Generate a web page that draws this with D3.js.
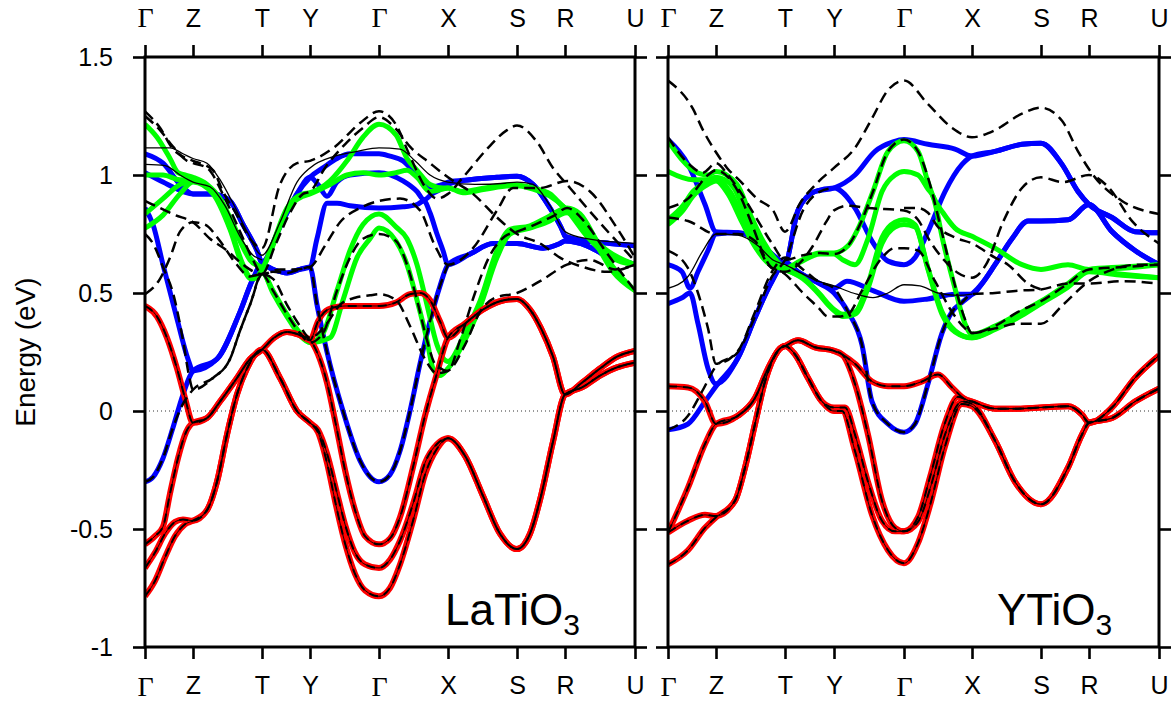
<!DOCTYPE html>
<html><head><meta charset="utf-8">
<script src="https://cdn.jsdelivr.net/npm/d3@7"></script>
<style>
body{margin:0;background:#fff}
svg{display:block}
text{fill:#000}
</style>
</head><body>
<svg id="c" width="1176" height="706"></svg>
<script>
// ---------- data ----------
const kLabels = ["Γ","Z","T","Y","Γ","X","S","R","U"];
const laTicksK = [0,48,117,165,234,303,372,420,490];
const yTicksK  = [0,48,117,166,236,304,373,421,491];
const energyTicks = [-1,-0.5,0,0.5,1,1.5];
const energyLabels = ["-1","-0.5","0","0.5","1","1.5"];

// LaTiO3: bands as [k, E(eV)]
const laRed = [
 [[0,0.445],[12,0.40],[22,0.31],[32,0.18],[40,0.055],[48,-0.05],[62,-0.03],[75,0.04],[92,0.14],[105,0.22],[117,0.26],[129,0.31],[142,0.335],[153,0.325],[165,0.30],[173,0.38],[183,0.43],[200,0.445],[234,0.445],[251,0.46],[265,0.495],[275,0.50],[285,0.47],[295,0.38],[303,0.31],[320,0.37],[338,0.43],[355,0.465],[372,0.475],[385,0.43],[396,0.35],[408,0.23],[420,0.07],[437,0.12],[455,0.18],[472,0.23],[490,0.255]],
 [[0,-0.565],[10,-0.53],[18,-0.49],[25,-0.35],[33,-0.2],[41,-0.09],[48,-0.05],[62,-0.03],[75,0.04],[92,0.14],[105,0.22],[117,0.26],[129,0.31],[142,0.335],[153,0.325],[165,0.30],[173,0.24],[182,0.12],[191,-0.06],[200,-0.25],[210,-0.42],[220,-0.53],[234,-0.565],[245,-0.54],[255,-0.45],[269,-0.22],[280,-0.02],[292,0.16],[303,0.31],[320,0.37],[338,0.43],[355,0.465],[372,0.475],[385,0.43],[396,0.35],[408,0.23],[420,0.07],[437,0.12],[455,0.18],[472,0.23],[490,0.255]],
 [[0,-0.665],[10,-0.60],[20,-0.52],[30,-0.47],[38,-0.46],[48,-0.465],[62,-0.42],[72,-0.30],[82,-0.10],[92,0.07],[102,0.18],[117,0.26],[135,0.14],[152,0.0],[165,-0.05],[173,-0.08],[182,-0.18],[191,-0.33],[200,-0.48],[210,-0.60],[220,-0.65],[234,-0.665],[245,-0.63],[255,-0.55],[269,-0.38],[280,-0.22],[292,-0.14],[303,-0.115],[320,-0.19],[338,-0.36],[355,-0.52],[372,-0.585],[385,-0.52],[396,-0.36],[408,-0.13],[420,0.07],[437,0.10],[455,0.15],[472,0.185],[490,0.205]],
 [[0,-0.785],[10,-0.72],[20,-0.62],[30,-0.53],[40,-0.48],[48,-0.465],[62,-0.42],[72,-0.30],[82,-0.10],[92,0.07],[102,0.18],[117,0.26],[135,0.14],[152,0.0],[165,-0.05],[173,-0.09],[182,-0.22],[191,-0.40],[200,-0.56],[210,-0.69],[220,-0.76],[234,-0.785],[245,-0.75],[255,-0.65],[269,-0.45],[280,-0.27],[292,-0.16],[303,-0.115],[320,-0.19],[338,-0.36],[355,-0.52],[372,-0.585],[385,-0.52],[396,-0.36],[408,-0.13],[420,0.07],[437,0.10],[455,0.15],[472,0.185],[490,0.205]]
];
const laBlue = [
 [[0,1.09],[18,1.05],[35,0.96],[48,0.92],[68,0.92],[85,0.89],[98,0.79],[112,0.68],[117,0.63],[135,0.78],[152,0.92],[165,0.99],[178,1.03],[192,1.07],[205,1.09],[234,1.09],[245,1.08],[258,1.06],[272,1.0],[285,0.95],[298,0.96],[303,0.97],[325,0.98],[352,0.99],[372,0.995],[388,0.96],[405,0.86],[418,0.76],[420,0.74],[442,0.72],[465,0.71],[490,0.70]],
 [[0,1.01],[18,0.97],[38,0.93],[48,0.92],[68,0.92],[85,0.89],[98,0.79],[112,0.68],[117,0.63],[135,0.78],[152,0.92],[165,0.99],[173,0.96],[182,0.91],[192,0.97],[205,1.0],[234,1.01],[258,0.975],[272,0.93],[279,0.895],[287,0.92],[298,0.945],[303,0.96],[325,0.98],[352,0.99],[372,0.995],[388,0.96],[405,0.86],[418,0.76],[420,0.74],[442,0.72],[465,0.71],[490,0.70]],
 [[0,0.86],[8,0.79],[18,0.62],[32,0.39],[43,0.22],[48,0.17],[72,0.22],[95,0.42],[108,0.56],[117,0.62],[128,0.60],[142,0.585],[155,0.60],[165,0.61],[172,0.73],[182,0.88],[192,0.88],[205,0.87],[234,0.86],[258,0.865],[272,0.875],[279,0.89],[285,0.84],[292,0.75],[298,0.68],[303,0.62],[325,0.665],[348,0.71],[372,0.71],[398,0.69],[415,0.71],[420,0.72],[442,0.70],[458,0.665],[475,0.64],[490,0.62]],
 [[0,-0.30],[8,-0.28],[18,-0.20],[28,-0.07],[38,0.07],[48,0.17],[72,0.22],[95,0.42],[108,0.56],[117,0.62],[128,0.60],[142,0.585],[155,0.60],[165,0.61],[172,0.45],[182,0.25],[198,0.0],[215,-0.21],[234,-0.30],[245,-0.27],[255,-0.17],[265,0.0],[275,0.2],[285,0.38],[295,0.53],[303,0.62],[325,0.665],[348,0.71],[372,0.71],[398,0.69],[415,0.71],[420,0.72],[442,0.70],[458,0.665],[475,0.64],[490,0.62]]
];
const laGreen = [
 [[0,1.215],[12,1.16],[25,1.07],[33,1.01],[40,1.0],[48,0.99],[62,0.96],[75,0.90],[85,0.82],[95,0.73],[105,0.65],[112,0.62],[117,0.61],[125,0.68],[142,0.86],[158,0.92],[165,0.925],[185,0.975],[202,1.06],[218,1.16],[234,1.215],[251,1.17],[262,1.07],[272,1.02],[285,0.96],[298,0.945],[303,0.945],[318,0.93],[340,0.945],[368,0.96],[388,0.945],[405,0.92],[420,0.86],[425,0.85],[442,0.76],[462,0.68],[490,0.62]],
 [[0,1.0],[18,1.0],[35,0.98],[48,0.98],[68,0.93],[85,0.78],[98,0.62],[106,0.565],[112,0.57],[117,0.60],[125,0.67],[142,0.85],[158,0.91],[165,0.92],[185,0.96],[202,1.0],[218,1.01],[234,1.0],[251,1.01],[262,1.02],[272,0.99],[285,0.93],[298,0.94],[303,0.945],[318,0.925],[340,0.94],[368,0.955],[388,0.94],[405,0.91],[420,0.86],[442,0.74],[462,0.66],[490,0.62]],
 [[0,0.835],[18,0.90],[35,0.96],[48,0.975],[62,0.95],[75,0.89],[85,0.81],[95,0.72],[105,0.64],[117,0.60],[128,0.51],[142,0.41],[155,0.33],[165,0.29],[178,0.33],[192,0.51],[205,0.68],[218,0.79],[234,0.835],[251,0.78],[262,0.73],[272,0.62],[282,0.45],[292,0.28],[303,0.21],[320,0.33],[335,0.465],[352,0.68],[365,0.77],[385,0.785],[402,0.82],[422,0.86],[435,0.835],[452,0.72],[468,0.61],[490,0.51]],
 [[0,0.775],[18,0.83],[35,0.92],[48,0.97],[68,0.92],[85,0.77],[98,0.61],[106,0.56],[112,0.565],[117,0.59],[128,0.50],[142,0.40],[155,0.32],[165,0.29],[185,0.31],[198,0.47],[212,0.65],[225,0.73],[234,0.775],[251,0.72],[262,0.62],[272,0.47],[282,0.30],[288,0.18],[295,0.15],[303,0.18],[320,0.30],[335,0.44],[352,0.65],[365,0.75],[385,0.775],[402,0.80],[422,0.84],[435,0.80],[452,0.70],[468,0.59],[490,0.51]]
];
const laDash = [
 [[0,1.27],[15,1.20],[28,1.11],[42,1.07],[48,1.06],[68,1.02],[78,0.93],[92,0.83],[105,0.73],[117,0.69],[135,0.96],[152,1.05],[165,1.06],[190,1.12],[215,1.22],[234,1.27],[250,1.22],[265,1.08],[280,0.95],[292,0.90],[303,0.92],[318,0.99],[342,1.11],[362,1.19],[372,1.21],[392,1.14],[408,1.03],[425,0.945],[442,0.86],[465,0.75],[490,0.635]],
 [[0,1.25],[15,1.19],[28,1.12],[42,1.06],[48,1.05],[62,1.03],[80,0.90],[95,0.76],[108,0.64],[117,0.58],[130,0.70],[145,0.84],[158,0.92],[165,0.93],[180,1.03],[200,1.13],[218,1.20],[234,1.245],[250,1.20],[265,1.12],[285,1.05],[303,0.99],[328,0.92],[352,0.82],[372,0.75],[395,0.71],[415,0.65],[438,0.61],[462,0.59],[490,0.62]],
 [[0,0.89],[15,0.86],[30,0.83],[48,0.80],[65,0.73],[82,0.68],[98,0.62],[117,0.58],[135,0.60],[150,0.60],[165,0.61],[180,0.70],[195,0.80],[215,0.86],[234,0.89],[255,0.90],[275,0.85],[290,0.70],[303,0.62],[328,0.69],[352,0.85],[368,0.945],[395,0.945],[422,0.975],[445,0.93],[472,0.775],[490,0.65]],
 [[0,0.75],[8,0.71],[18,0.61],[28,0.50],[38,0.30],[44,0.15],[48,0.09],[68,0.14],[85,0.22],[95,0.34],[105,0.45],[117,0.58],[128,0.51],[142,0.41],[155,0.33],[165,0.29],[178,0.33],[192,0.51],[205,0.65],[218,0.73],[234,0.75],[251,0.72],[262,0.62],[272,0.47],[282,0.30],[290,0.20],[303,0.17],[315,0.30],[330,0.50],[345,0.66],[360,0.74],[372,0.76],[390,0.79],[410,0.83],[422,0.86],[440,0.80],[460,0.68],[490,0.51]],
 [[0,0.495],[15,0.56],[25,0.65],[35,0.76],[48,0.80],[60,0.79],[75,0.72],[90,0.63],[105,0.57],[117,0.58],[128,0.56],[142,0.45],[155,0.36],[165,0.31],[180,0.36],[195,0.45],[210,0.48],[225,0.49],[234,0.495],[251,0.47],[265,0.36],[280,0.22],[292,0.16],[303,0.17],[320,0.28],[335,0.42],[350,0.48],[372,0.50],[395,0.55],[422,0.62],[445,0.64],[470,0.60],[490,0.62]],
 [[0,-0.30],[8,-0.28],[18,-0.20],[28,-0.07],[38,0.03],[48,0.09],[68,0.14],[85,0.22],[95,0.34],[105,0.45],[117,0.58],[128,0.59],[142,0.585],[155,0.60],[165,0.61],[172,0.45],[182,0.25],[198,0.0],[215,-0.21],[234,-0.30],[245,-0.27],[255,-0.17],[265,0.0],[275,0.2],[285,0.38],[295,0.53],[303,0.62]]
];
const laThin = [
 [[0,1.115],[25,1.115],[38,1.09],[48,1.07],[62,1.05],[75,0.98],[88,0.88],[102,0.76],[117,0.66],[135,0.80],[152,0.97],[165,1.03],[190,1.08],[212,1.10],[234,1.115],[255,1.11],[270,1.06],[285,1.0],[303,0.97],[330,0.96],[360,0.965],[372,0.97],[388,0.96],[405,0.87],[420,0.76],[442,0.73],[490,0.71]],
 [[0,1.045],[20,1.04],[35,1.0],[48,0.97],[65,0.95],[80,0.87],[95,0.74],[108,0.66],[117,0.64]]
];

// YTiO3
const yRed = [
 [[0,0.105],[20,0.10],[37,0.04],[48,-0.055],[70,-0.02],[87,0.055],[100,0.18],[112,0.265],[117,0.275],[130,0.30],[147,0.27],[166,0.255],[187,0.20],[204,0.125],[220,0.105],[236,0.105],[254,0.125],[270,0.155],[284,0.10],[297,0.05],[304,0.04],[327,0.01],[350,0.01],[373,0.015],[400,0.02],[414,-0.015],[421,-0.05],[444,0.015],[467,0.14],[491,0.235]],
 [[0,-0.515],[20,-0.325],[37,-0.14],[48,-0.055],[70,-0.02],[87,0.055],[100,0.18],[112,0.265],[117,0.275],[130,0.30],[147,0.27],[166,0.255],[174,0.24],[187,0.115],[200,-0.10],[214,-0.38],[227,-0.495],[236,-0.51],[250,-0.45],[262,-0.28],[277,-0.05],[290,0.06],[300,0.045],[304,0.04],[327,0.01],[350,0.01],[373,0.015],[400,0.02],[414,-0.015],[421,-0.05],[444,0.015],[467,0.14],[491,0.235]],
 [[0,-0.515],[20,-0.465],[37,-0.44],[48,-0.445],[67,-0.38],[77,-0.24],[87,-0.055],[97,0.125],[110,0.255],[117,0.275],[127,0.24],[140,0.14],[154,0.04],[166,0.015],[177,0.015],[187,-0.10],[200,-0.30],[214,-0.465],[227,-0.51],[236,-0.51],[250,-0.47],[262,-0.33],[277,-0.10],[294,0.04],[304,0.03],[327,-0.125],[347,-0.30],[373,-0.395],[400,-0.24],[414,-0.10],[421,-0.05],[444,-0.03],[467,0.04],[491,0.095]],
 [[0,-0.65],[20,-0.59],[37,-0.495],[48,-0.45],[67,-0.38],[77,-0.24],[87,-0.055],[97,0.125],[110,0.255],[117,0.275],[127,0.24],[140,0.14],[154,0.04],[166,0.0],[174,0.0],[187,-0.17],[204,-0.44],[220,-0.59],[236,-0.645],[250,-0.56],[262,-0.40],[277,-0.15],[294,0.03],[304,0.02],[327,-0.125],[347,-0.30],[373,-0.395],[400,-0.24],[414,-0.10],[421,-0.05],[444,-0.03],[467,0.04],[491,0.095]]
];
const yBlue = [
 [[0,1.15],[20,1.045],[37,0.875],[48,0.76],[70,0.755],[87,0.73],[100,0.68],[117,0.63],[130,0.85],[147,0.93],[166,0.945],[187,1.0],[207,1.10],[225,1.14],[236,1.15],[260,1.13],[287,1.11],[304,1.08],[327,1.10],[354,1.13],[373,1.135],[394,1.045],[410,0.93],[421,0.875],[444,0.82],[467,0.76],[491,0.755]],
 [[0,0.62],[14,0.59],[22,0.52],[30,0.59],[40,0.68],[48,0.75],[70,0.755],[87,0.73],[100,0.68],[117,0.63],[130,0.85],[147,0.93],[166,0.945],[187,0.86],[204,0.72],[220,0.635],[236,0.62],[247,0.65],[260,0.76],[277,0.93],[294,1.045],[304,1.08],[327,1.10],[354,1.13],[373,1.135],[394,1.045],[410,0.93],[421,0.875],[444,0.82],[467,0.76],[491,0.755]],
 [[0,0.455],[14,0.48],[22,0.50],[30,0.37],[40,0.18],[48,0.115],[70,0.225],[87,0.395],[104,0.55],[117,0.63],[130,0.59],[147,0.55],[166,0.52],[179,0.55],[205,0.51],[236,0.465],[260,0.475],[287,0.495],[304,0.495],[314,0.54],[327,0.62],[344,0.73],[360,0.805],[373,0.805],[400,0.81],[421,0.875],[444,0.76],[467,0.68],[491,0.62]],
 [[0,-0.08],[20,-0.055],[37,0.04],[48,0.105],[70,0.225],[87,0.395],[104,0.55],[117,0.63],[130,0.59],[147,0.55],[166,0.50],[180,0.42],[194,0.28],[204,0.04],[220,-0.055],[236,-0.09],[247,-0.055],[260,0.115],[274,0.33],[284,0.42],[294,0.46],[304,0.495],[314,0.54],[327,0.62],[344,0.73],[360,0.805],[373,0.805],[400,0.81],[421,0.875],[444,0.76],[467,0.68],[491,0.62]]
];
const yGreen = [
 [[0,1.145],[15,1.06],[25,1.02],[40,1.0],[48,1.015],[69,0.96],[82,0.835],[95,0.72],[109,0.635],[117,0.605],[132,0.635],[152,0.67],[166,0.67],[180,0.70],[192,0.79],[205,0.93],[220,1.10],[236,1.145],[250,1.10],[260,0.97],[265,0.91],[275,0.84],[287,0.775],[304,0.74],[327,0.69],[354,0.62],[373,0.60],[400,0.62],[421,0.60],[454,0.605],[491,0.62]],
 [[0,1.015],[25,0.98],[40,0.98],[48,0.99],[65,0.95],[78,0.83],[92,0.72],[106,0.64],[117,0.60],[132,0.63],[152,0.665],[166,0.665],[175,0.64],[187,0.62],[200,0.73],[214,0.93],[227,1.0],[236,1.015],[250,1.0],[260,0.94],[265,0.91],[275,0.72],[287,0.52],[297,0.37],[304,0.325],[327,0.36],[354,0.42],[373,0.465],[400,0.54],[421,0.60],[454,0.61],[491,0.62]],
 [[0,0.81],[15,0.87],[25,0.93],[40,0.97],[48,0.98],[62,0.93],[76,0.81],[90,0.70],[104,0.63],[117,0.60],[135,0.565],[152,0.495],[160,0.455],[166,0.43],[175,0.41],[187,0.42],[200,0.54],[214,0.735],[227,0.80],[236,0.81],[247,0.79],[260,0.605],[274,0.42],[287,0.34],[304,0.31],[327,0.35],[354,0.41],[373,0.46],[400,0.53],[421,0.595],[454,0.58],[491,0.565]],
 [[0,0.79],[15,0.85],[25,0.91],[40,0.96],[48,0.975],[60,0.92],[74,0.80],[88,0.69],[102,0.62],[117,0.60],[135,0.56],[152,0.49],[160,0.45],[166,0.425],[175,0.40],[187,0.41],[200,0.52],[214,0.71],[227,0.78],[236,0.79],[247,0.78],[260,0.60],[274,0.41],[287,0.335],[304,0.31],[327,0.345],[354,0.405],[373,0.455],[400,0.525],[421,0.59],[454,0.575],[491,0.565]]
];
const yDash = [
 [[0,1.40],[25,1.28],[35,1.19],[49,1.09],[59,1.03],[72,0.975],[89,0.90],[105,0.85],[117,0.76],[132,0.88],[150,0.97],[166,1.03],[187,1.115],[204,1.24],[220,1.36],[236,1.40],[260,1.30],[284,1.20],[304,1.16],[327,1.19],[354,1.26],[373,1.285],[394,1.23],[410,1.10],[427,0.99],[454,0.89],[491,0.835]],
 [[0,1.16],[20,1.05],[35,1.01],[48,1.05],[60,1.0],[72,0.93],[88,0.82],[104,0.71],[117,0.64],[135,0.66],[152,0.67],[166,0.665],[180,0.70],[192,0.79],[205,0.93],[220,1.10],[236,1.15],[250,1.10],[262,0.96],[272,0.79],[284,0.58],[296,0.40],[304,0.33],[327,0.36],[350,0.42],[373,0.465],[400,0.54],[421,0.60],[455,0.61],[491,0.62]],
 [[0,0.86],[20,0.90],[40,1.0],[48,1.02],[70,0.93],[84,0.79],[97,0.65],[104,0.605],[117,0.59],[130,0.62],[145,0.70],[158,0.80],[166,0.85],[180,0.87],[200,0.86],[236,0.85],[250,0.81],[262,0.72],[276,0.64],[290,0.585],[304,0.565],[318,0.62],[335,0.80],[355,0.95],[373,0.99],[395,0.97],[421,1.0],[440,0.95],[465,0.80],[491,0.71]],
 [[0,0.82],[20,0.805],[48,0.75],[70,0.75],[87,0.72],[100,0.62],[117,0.58],[135,0.50],[150,0.44],[160,0.40],[170,0.40],[180,0.41],[194,0.51],[214,0.65],[227,0.69],[236,0.69],[250,0.68],[267,0.55],[284,0.42],[297,0.35],[304,0.33],[327,0.35],[350,0.37],[373,0.37],[395,0.45],[421,0.55],[445,0.60],[470,0.62],[491,0.62]],
 [[0,0.68],[20,0.605],[30,0.50],[40,0.35],[48,0.20],[70,0.255],[87,0.42],[104,0.59],[117,0.65],[135,0.60],[150,0.55],[166,0.52],[180,0.42],[194,0.28],[204,0.04],[220,-0.055],[236,-0.09],[247,-0.055],[260,0.115],[274,0.33],[284,0.42],[294,0.46],[304,0.495],[327,0.50],[350,0.51],[373,0.515],[400,0.54],[421,0.54],[455,0.55],[491,0.54]],
 [[0,-0.08],[20,-0.02],[35,0.09],[48,0.19],[70,0.25],[87,0.40],[104,0.57],[117,0.64],[135,0.85],[152,0.93],[166,0.945]],
 [[236,0.86],[250,0.86],[260,0.84],[270,0.78],[287,0.735],[304,0.71],[327,0.65],[340,0.62],[360,0.54],[373,0.515]]
];
const yThin = [
 [[0,0.52],[20,0.57],[35,0.68],[48,0.75],[70,0.745],[90,0.70],[105,0.64],[117,0.62],[135,0.58],[150,0.55],[166,0.53],[185,0.50],[205,0.48],[220,0.50],[236,0.535],[252,0.53],[270,0.50],[290,0.49],[304,0.495]]
];

// ---------- drawing ----------
const SANS = "'Liberation Sans', Arial, Helvetica, sans-serif";
const SERIF = "'Liberation Serif', 'Times New Roman', serif";
const svg = d3.select("#c");
const Y0 = 57, Y1 = 647;
const y = d3.scaleLinear().domain([-1, 1.5]).range([Y1, Y0]);

const panels = [
  {id:"la", x0:145, x1:635, ticks:laTicksK, red:laRed, blue:laBlue, green:laGreen, dash:laDash, thin:laThin, name:"LaTiO", nameX:445},
  {id:"yt", x0:668, x1:1159, ticks:yTicksK, red:yRed, blue:yBlue, green:yGreen, dash:yDash, thin:yThin, name:"YTiO", nameX:997}
];

const defs = svg.append("defs");

panels.forEach((p, pi) => {
  const x = d3.scaleLinear().domain([0, p.ticks[p.ticks.length-1]]).range([p.x0, p.x1]);
  defs.append("clipPath").attr("id", "clip-"+p.id)
    .append("rect").attr("x", p.x0).attr("y", Y0).attr("width", p.x1-p.x0).attr("height", Y1-Y0);
  const g = svg.append("g").attr("clip-path", "url(#clip-"+p.id+")");
  const line = d3.line().x(d => x(d[0])).y(d => y(d[1])).curve(d3.curveMonotoneX);

  // Fermi level
  g.append("line").attr("x1", p.x0).attr("x2", p.x1).attr("y1", y(0)).attr("y2", y(0))
    .attr("stroke", "#333").attr("stroke-width", 1).attr("stroke-dasharray", "1,3");

  const thick = 5;
  g.selectAll("path.blue").data(p.blue).join("path").attr("class","blue")
    .attr("d", line).attr("fill","none").attr("stroke","#0000ff").attr("stroke-width",thick)
    .attr("stroke-linejoin","round");
  g.selectAll("path.green").data(p.green).join("path").attr("class","green")
    .attr("d", line).attr("fill","none").attr("stroke","#00ff00").attr("stroke-width",thick)
    .attr("stroke-linejoin","round");
  g.selectAll("path.red").data(p.red).join("path").attr("class","red")
    .attr("d", line).attr("fill","none").attr("stroke","#ff0000").attr("stroke-width",6)
    .attr("stroke-linejoin","round");

  // thin solid black on red bands, and extra thin lines
  g.selectAll("path.thinr").data(p.red).join("path").attr("class","thinr")
    .attr("d", line).attr("fill","none").attr("stroke","#000").attr("stroke-width",0.9);
  g.selectAll("path.thin").data(p.thin).join("path").attr("class","thin")
    .attr("d", line).attr("fill","none").attr("stroke","#000").attr("stroke-width",1.3);

  // dashed black
  g.selectAll("path.dashr").data(p.red).join("path").attr("class","dashr")
    .attr("d", line).attr("fill","none").attr("stroke","#000").attr("stroke-width",2)
    .attr("stroke-dasharray","9,6");
  g.selectAll("path.dash").data(p.dash).join("path").attr("class","dash")
    .attr("d", line).attr("fill","none").attr("stroke","#000").attr("stroke-width",2.5)
    .attr("stroke-dasharray","11,6");

  // frame
  svg.append("rect").attr("x", p.x0).attr("y", Y0).attr("width", p.x1-p.x0).attr("height", Y1-Y0)
    .attr("fill","none").attr("stroke","#000").attr("stroke-width",3);

  // axes
  const styleAxis = sel => {
    sel.select(".domain").remove();
    sel.selectAll(".tick line").attr("stroke","#000").attr("stroke-width",2.6);
  };
  const left = d3.axisLeft(y).tickValues(energyTicks).tickSize(12).tickPadding(20)
    .tickFormat((d,i) => pi === 0 ? energyLabels[i] : "");
  svg.append("g").attr("transform","translate("+p.x0+",0)").call(left).call(styleAxis)
    .selectAll("text").style("font-family", SANS).style("font-size","25px");
  const right = d3.axisRight(y).tickValues(energyTicks).tickSize(12).tickFormat("");
  svg.append("g").attr("transform","translate("+p.x1+",0)").call(right).call(styleAxis);

  const fmt = (d,i) => kLabels[i];
  const top = d3.axisTop(x).tickValues(p.ticks).tickSize(12).tickPadding(18).tickFormat(fmt);
  const bot = d3.axisBottom(x).tickValues(p.ticks).tickSize(12).tickPadding(17).tickFormat(fmt);
  [svg.append("g").attr("transform","translate(0,"+Y0+")").call(top),
   svg.append("g").attr("transform","translate(0,"+Y1+")").call(bot)].forEach(ax => {
    ax.call(styleAxis);
    ax.selectAll("text")
      .style("font-family", (d,i) => kLabels[i] === "Γ" ? SERIF : SANS)
      .style("font-size", (d,i) => kLabels[i] === "Γ" ? "28px" : "25px");
  });

  // panel name with subscript
  const t = svg.append("text").attr("x", p.nameX).attr("y", 625)
    .style("font-family", SANS).style("font-size","44px");
  t.append("tspan").text(p.name);
  t.append("tspan").style("font-size","30px").attr("dy", 10).text("3");
});

// y label
svg.append("text").attr("transform","translate(35,352) rotate(-90)")
  .attr("text-anchor","middle").style("font-family", SANS).style("font-size","28px").text("Energy (eV)");
</script>
</body></html>
